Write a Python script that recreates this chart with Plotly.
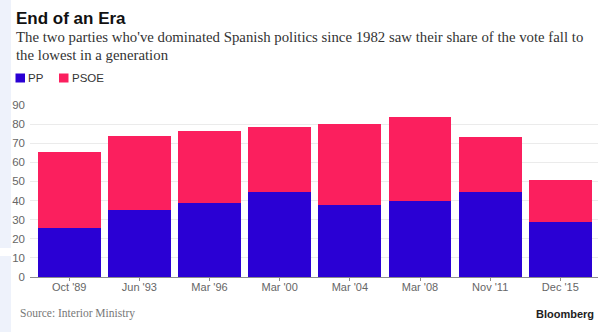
import plotly.graph_objects as go

# Spanish general elections: vote share (%) of the two main parties
elections = ["Oct '89", "Jun '93", "Mar '96", "Mar '00", "Mar '04", "Mar '08", "Nov '11", "Dec '15"]
pp_share = [25.8, 34.8, 38.8, 44.5, 37.7, 39.9, 44.6, 28.7]
psoe_share = [39.6, 38.8, 37.6, 34.2, 42.6, 43.9, 28.8, 22.0]
y_ticks = [0, 10, 20, 30, 40, 50, 60, 70, 80, 90]
parties = ["PP", "PSOE"]

PP_COLOR = "#2a00d4"
PSOE_COLOR = "#fb1f5e"
SANS = "Liberation Sans, Arial, sans-serif"
SERIF = "Liberation Serif, Times New Roman, serif"

W, H = 601, 332
ML, MR, MT, MB = 30, 3, 105, 55
PW, PH = W - ML - MR, H - MT - MB


def px_x(x):
    """Pixel x -> paper x."""
    return (x - ML) / PW


def px_y(y):
    """Pixel y (from top) -> paper y."""
    return (H - MB - y) / PH


fig = go.Figure()
fig.add_bar(x=list(range(len(elections))), y=pp_share, name=parties[0],
            marker=dict(color=PP_COLOR, line=dict(width=0)), width=0.894)
fig.add_bar(x=list(range(len(elections))), y=psoe_share, name=parties[1],
            marker=dict(color=PSOE_COLOR, line=dict(width=0)), width=0.894)

fig.update_layout(
    width=W, height=H,
    margin=dict(l=ML, r=MR, t=MT, b=MB),
    barmode="stack",
    paper_bgcolor="white", plot_bgcolor="white",
    showlegend=False,
    xaxis=dict(
        range=[-0.559, 7.537],
        tickmode="array", tickvals=list(range(len(elections))), ticktext=elections,
        showgrid=False, zeroline=False,
        showline=True, linecolor="#8c8c8c", linewidth=1,
        ticks="outside", ticklen=3, tickcolor="#8c8c8c",
        ticklabelstandoff=-3,
        tickfont=dict(family=SANS, size=11, color="#666"),
        fixedrange=True,
    ),
    yaxis=dict(
        range=[0, 90],
        tickmode="array", tickvals=y_ticks,
        showgrid=True, gridcolor="#ebebeb", gridwidth=1,
        zeroline=False, showline=False, ticks="",
        ticklabelstandoff=4,
        tickfont=dict(family=SANS, size=11.5, color="#666"),
        fixedrange=True,
    ),
)

# light strip along the left edge of the page
for y_top, y_bot in [(0, 248), (256, H)]:
    fig.add_shape(type="rect", xref="paper", yref="paper",
                  x0=px_x(0), x1=px_x(11), y0=px_y(y_bot), y1=px_y(y_top),
                  fillcolor="#eef2fb", line=dict(width=0), layer="below")

# headline and dek
fig.add_annotation(text="<b>End of an Era</b>", xref="paper", yref="paper",
                   x=px_x(14), y=px_y(18.5), xanchor="left", yanchor="middle",
                   showarrow=False, font=dict(family=SANS, size=17, color="#111"))
dek_lines = ["The two parties who've dominated Spanish politics since 1982 saw their share of the vote fall to",
             "the lowest in a generation"]
for line, yc in zip(dek_lines, [37, 55]):
    fig.add_annotation(text=line, xref="paper", yref="paper", x=px_x(14), y=px_y(yc),
                       xanchor="left", yanchor="middle", align="left", showarrow=False,
                       font=dict(family=SERIF, size=14.8, color="#333"))

# legend: swatch + label per party
legend_pos = [(15.5, 28), (59, 71.5)]
for name, color, (sx, tx) in zip(parties, [PP_COLOR, PSOE_COLOR], legend_pos):
    fig.add_shape(type="rect", xref="paper", yref="paper",
                  x0=px_x(sx), x1=px_x(sx + 9.5), y0=px_y(82.5), y1=px_y(73.5),
                  fillcolor=color, line=dict(width=0))
    fig.add_annotation(text=name, xref="paper", yref="paper", x=px_x(tx - 2), y=px_y(78),
                       xanchor="left", yanchor="middle", showarrow=False,
                       font=dict(family=SANS, size=11.5, color="#333"))

fig.add_annotation(text="Source: Interior Ministry", xref="paper", yref="paper",
                   x=px_x(18), y=px_y(313.5), xanchor="left", yanchor="middle",
                   showarrow=False, font=dict(family=SERIF, size=11.5, color="#777"))
fig.add_annotation(text="<b>Bloomberg</b>", xref="paper", yref="paper",
                   x=px_x(596), y=px_y(313.5), xanchor="right", yanchor="middle",
                   showarrow=False, font=dict(family=SANS, size=11, color="#222"))

fig.write_html("out.html")
